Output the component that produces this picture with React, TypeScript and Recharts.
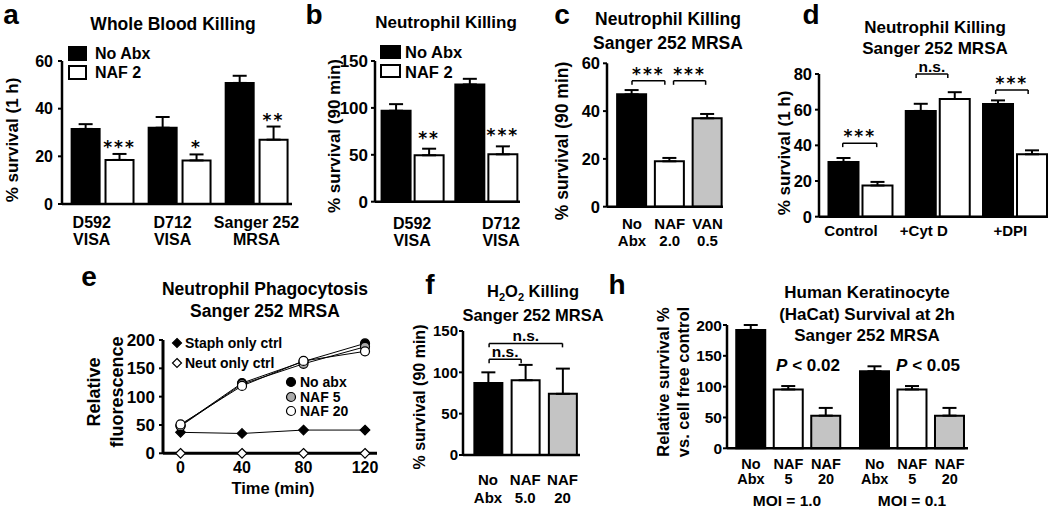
import React from 'react';
import {
  BarChart,
  Bar,
  Cell,
  ErrorBar,
  XAxis,
  YAxis,
  ReferenceLine,
  ReferenceDot,
  LineChart,
  Line,
} from 'recharts';

const FONT = '"Liberation Sans", Arial, Helvetica, sans-serif';
const STAR_FONT = '"DejaVu Sans", sans-serif';
const BLACK = '#000';
const WHITE = '#fff';
const GREY = '#c4c4c4';

// a: whole blood killing, % survival (1 h)
const strainsA = [['D592', 'VISA'], ['D712', 'VISA'], ['Sanger 252', 'MRSA']];
const noAbxA = [31.5, 32, 50.8];
const noAbxErrA = [2, 4.5, 3];
const naf2A = [18.5, 18.3, 27];
const naf2ErrA = [2.5, 2.5, 5.5];
const sigA = ['***', '*', '**'];

// b: neutrophil killing, % survival (90 min)
const strainsB = [['D592', 'VISA'], ['D712', 'VISA']];
const noAbxB = [97, 125];
const noAbxErrB = [7, 6];
const naf2B = [49.5, 50.5];
const naf2ErrB = [7, 8.5];
const sigB = ['**', '***'];

// c: neutrophil killing, Sanger 252
const treatC = [['No', 'Abx'], ['NAF', '2.0'], ['VAN', '0.5']];
const survC = [47, 19, 37];
const errC = [1.8, 1.4, 1.8];
const fillC = [BLACK, WHITE, GREY];
const sigC = [
  { from: 1.0, to: 1.87, y: 52.7, text: '***' },
  { from: 2.1, to: 2.95, y: 52.7, text: '***' },
];

// d: neutrophil killing with inhibitors
const condD = [['Control'], ['+Cyt D'], ['+DPI']];
const noAbxD = [30.7, 59.3, 63.2];
const noAbxErrD = [2.2, 4, 2];
const nafD = [17.5, 66, 35];
const nafErrD = [2, 3.8, 2.2];
const sigD = [
  { from: 0.77, to: 1.21, y: 41.2, text: '***' },
  { from: 1.72, to: 2.13, y: 80, text: 'n.s.' },
  { from: 2.75, to: 3.17, y: 71, text: '***' },
];

// e: phagocytosis over time
const timeE = [0, 40, 80, 120];
const noAbxE = [49, 124, 162, 194];
const naf5E = [48, 122, 158, 188];
const naf20E = [51, 119, 163, 180];
const staphE = [37, 35, 41, 41];
const neutE = [0, 0, 0, 0];

// f: H2O2 killing
const treatF = [['No', 'Abx'], ['NAF', '5.0'], ['NAF', '20']];
const survF = [87, 90.5, 74];
const errF = [13, 18.5, 30.5];
const fillF = [BLACK, WHITE, GREY];
const sigF = [
  { from: 1.03, to: 1.89, y: 115.8, text: 'n.s.' },
  { from: 1.03, to: 3.0, y: 135, text: 'n.s.' },
];

// h: keratinocyte survival
const treatH = [['No', 'Abx'], ['NAF', '5'], ['NAF', '20']];
const moiH = ['MOI = 1.0', 'MOI = 0.1'];
const moi1H = [192, 95.5, 53];
const moi1ErrH = [8, 5.5, 12.5];
const moi01H = [125, 95.5, 53];
const moi01ErrH = [8, 5.5, 12.5];
const fillH = [BLACK, WHITE, GREY];
const pH = ['0.02', '0.05'];

type Row = { x: number; value: number; err: number[]; fill: string };
type Tick = { x: number; lines: string[] };
type Sig = { from: number; to: number; y: number; text: string };
type Mark = { x: number; y: number; text: string };
type Frame = {
  left: number; top: number; width: number; height: number;
  plotLeft: number; plotRight: number; plotTop: number; plotBottom: number;
};

const multiTick = (ticks: Tick[], baseY: number, gap: number, size: number) => (props: any) => {
  const { x, payload } = props;
  const t = ticks.find((k) => Math.abs(k.x - payload.value) < 1e-6);
  if (!t) return <g />;
  return (
    <text x={x} y={baseY} textAnchor="middle" fontFamily={FONT} fontWeight="bold" fontSize={size} fill={BLACK}>
      {t.lines.map((l, i) => (
        <tspan key={i} x={x} dy={i === 0 ? 0 : gap}>{l}</tspan>
      ))}
    </text>
  );
};

const isStar = (s: string) => s.indexOf('*') >= 0;

const sigLabel = (text: string, offset: number) => ({
  value: text,
  position: 'top' as const,
  offset,
  fill: BLACK,
  fontSize: isStar(text) ? 17 : 15.5,
  fontWeight: 'bold',
  fontFamily: isStar(text) ? STAR_FONT : FONT,
  letterSpacing: isStar(text) ? 2 : 0,
});

interface BarPanelProps {
  frame: Frame;
  xDomain: [number, number];
  yMax: number;
  yTicks: number[];
  yFont: number;
  rows: Row[];
  barSize: number;
  ticks: Tick[];
  tickBase: number;
  lineGap: number;
  tickFont: number;
  sigs?: Sig[];
  marks?: Mark[];
  drop?: number;
  markOffset?: number;
  tickMargin?: number;
}

function BarPanel(p: BarPanelProps) {
  const f = p.frame;
  const yw = f.plotLeft - f.left;
  const mt = f.plotTop - f.top;
  const xh = f.top + f.height - f.plotBottom;
  const mr = f.left + f.width - f.plotRight;
  const drop = p.drop || 0;
  return (
    <div style={{ position: 'absolute', left: f.left, top: f.top }}>
      <BarChart width={f.width} height={f.height} data={p.rows} margin={{ top: mt, right: mr, left: 0, bottom: 0 }}>
        <XAxis
          type="number"
          dataKey="x"
          domain={p.xDomain}
          ticks={p.ticks.map((t) => t.x)}
          interval={0}
          height={xh}
          axisLine={{ stroke: BLACK, strokeWidth: 2.5 }}
          tickLine={false}
          tick={multiTick(p.ticks, p.tickBase - f.top, p.lineGap, p.tickFont)}
        />
        <YAxis
          type="number"
          domain={[0, p.yMax]}
          ticks={p.yTicks}
          interval={0}
          width={yw}
          axisLine={{ stroke: BLACK, strokeWidth: 2.5 }}
          tickLine={{ stroke: BLACK, strokeWidth: 2 }}
          tickSize={4}
          tickMargin={p.tickMargin ?? 3}
          tick={{ fill: BLACK, fontSize: p.yFont, fontWeight: 'bold', fontFamily: FONT }}
        />
        <Bar dataKey="value" barSize={p.barSize} stroke={BLACK} strokeWidth={2} isAnimationActive={false}>
          {p.rows.map((r, i) => (
            <Cell key={i} fill={r.fill} />
          ))}
          <ErrorBar dataKey="err" direction="y" width={7} stroke={BLACK} strokeWidth={2} />
        </Bar>
        {(p.sigs || []).map((s, i) => (
          <ReferenceLine
            key={`h${i}`}
            segment={[{ x: s.from, y: s.y }, { x: s.to, y: s.y }]}
            stroke={BLACK}
            strokeWidth={1.5}
            label={sigLabel(s.text, isStar(s.text) ? 1 : 2)}
          />
        ))}
        {(p.sigs || []).map((s, i) => (
          <ReferenceLine key={`l${i}`} segment={[{ x: s.from, y: s.y }, { x: s.from, y: s.y - drop }]} stroke={BLACK} strokeWidth={1.5} />
        ))}
        {(p.sigs || []).map((s, i) => (
          <ReferenceLine key={`r${i}`} segment={[{ x: s.to, y: s.y }, { x: s.to, y: s.y - drop }]} stroke={BLACK} strokeWidth={1.5} />
        ))}
        {(p.marks || []).map((m, i) => (
          <ReferenceDot key={`m${i}`} x={m.x} y={m.y} r={0} fill="none" stroke="none" label={sigLabel(m.text, p.markOffset ?? 1)} />
        ))}
      </BarChart>
    </div>
  );
}

// paired rows (black = no antibiotic, white = NAF) around group positions 1..n
const paired = (a: number[], ae: number[], b: number[], be: number[], off: number): Row[] =>
  a.flatMap((v, i) => [
    { x: i + 1 - off, value: v, err: [0, ae[i]], fill: BLACK },
    { x: i + 1 + off, value: b[i], err: [0, be[i]], fill: WHITE },
  ]);

const single = (vals: number[], errs: number[], fills: string[], pos: number[]): Row[] =>
  vals.map((v, i) => ({ x: pos[i], value: v, err: [0, errs[i]], fill: fills[i] }));

const Txt = ({ x, y, size, children, rotate, left, lh }: any) => (
  <div
    style={{
      position: 'absolute',
      left: x,
      top: y,
      transform: `translate(${left ? '0' : '-50%'}, -50%)${rotate ? ' rotate(-90deg)' : ''}`,
      fontFamily: FONT,
      fontWeight: 'bold',
      fontSize: size,
      lineHeight: lh ?? 1,
      whiteSpace: 'nowrap',
      color: BLACK,
    }}
  >
    {children}
  </div>
);

const Swatch = ({ x, y, w, h, fill }: any) => (
  <div
    style={{
      position: 'absolute', left: x, top: y, width: w, height: h, boxSizing: 'border-box',
      background: fill, border: `2px solid ${BLACK}`,
    }}
  />
);

const Sym = ({ x, y, kind, fill }: any) => (
  <svg style={{ position: 'absolute', left: x - 6, top: y - 6 }} width={12} height={12}>
    {kind === 'diamond' ? (
      <polygon points="6,1.5 10.5,6 6,10.5 1.5,6" fill={fill} stroke={BLACK} strokeWidth={1.2} />
    ) : (
      <circle cx={6} cy={6} r={4.5} fill={fill} stroke={BLACK} strokeWidth={1.2} />
    )}
  </svg>
);

const circleDot = (fill: string) => (p: any) => (
  <circle key={`c${fill}${p.index}`} cx={p.cx} cy={p.cy} r={4.5} fill={fill} stroke={BLACK} strokeWidth={1.2} />
);
const diamondDot = (fill: string) => (p: any) => (
  <polygon
    key={`d${fill}${p.index}`}
    points={`${p.cx},${p.cy - 4.8} ${p.cx + 4.8},${p.cy} ${p.cx},${p.cy + 4.8} ${p.cx - 4.8},${p.cy}`}
    fill={fill}
    stroke={BLACK}
    strokeWidth={1.2}
  />
);

const singleTick = (baseY: number, size: number) => (props: any) => (
  <text x={props.x} y={baseY} textAnchor="middle" fontFamily={FONT} fontWeight="bold" fontSize={size} fill={BLACK}>
    {props.payload.value}
  </text>
);

export default function App() {
  const rowsA = paired(noAbxA, noAbxErrA, naf2A, naf2ErrA, 0.22);
  const rowsB = paired(noAbxB, noAbxErrB, naf2B, naf2ErrB, 0.224);
  const rowsC = single(survC, errC, fillC, [1, 2, 3]);
  const rowsD = paired(noAbxD, noAbxErrD, nafD, nafErrD, 0.22);
  const rowsF = single(survF, errF, fillF, [1, 2, 3]);
  const posH = [1, 2, 3, 4.3, 5.3, 6.3];
  const rowsH = single([...moi1H, ...moi01H], [...moi1ErrH, ...moi01ErrH], [...fillH, ...fillH], posH);
  const rowsE = timeE.map((t, i) => ({
    t, noAbx: noAbxE[i], naf5: naf5E[i], naf20: naf20E[i], staph: staphE[i], neut: neutE[i],
  }));

  const labelPosA = [0.86, 1.91, 3.0];
  const labelPosB = [0.993, 2.2];
  const labelPosD = [0.877, 1.82, 2.94];

  return (
    <div style={{ position: 'absolute', left: 0, top: 0, width: 1050, height: 508, background: WHITE, overflow: 'hidden' }}>
      {/* a */}
      <BarPanel
        frame={{ left: 0, top: 0, width: 300, height: 250, plotLeft: 62, plotRight: 292, plotTop: 61, plotBottom: 204 }}
        xDomain={[0.474, 3.46]} yMax={60} yTicks={[0, 20, 40, 60]} yFont={16}
        rows={rowsA} barSize={28}
        ticks={strainsA.map((l, i) => ({ x: labelPosA[i], lines: l }))} tickBase={228} lineGap={17} tickFont={16}
        marks={sigA.map((s, i) => ({ x: i + 1 + 0.22, y: naf2A[i] + naf2ErrA[i], text: s }))}
        markOffset={1} tickMargin={5}
      />
      <Txt x={11} y={15} size={28}>a</Txt>
      <Txt x={173} y={24.5} size={17.5}>Whole Blood Killing</Txt>
      <Txt x={12} y={140} size={17} rotate>% survival (1 h)</Txt>
      <Swatch x={68} y={46} w={19} h={15} fill={BLACK} />
      <Swatch x={68} y={65} w={19} h={15} fill={WHITE} />
      <Txt x={95} y={53.5} size={16} left>No Abx</Txt>
      <Txt x={95} y={72.5} size={16} left>NAF 2</Txt>

      {/* b */}
      <BarPanel
        frame={{ left: 300, top: 0, width: 230, height: 250, plotLeft: 375, plotRight: 520, plotTop: 61, plotBottom: 201.7 }}
        xDomain={[0.49, 2.456]} yMax={150} yTicks={[0, 50, 100, 150]} yFont={17}
        rows={rowsB} barSize={29}
        ticks={strainsB.map((l, i) => ({ x: labelPosB[i], lines: l }))} tickBase={228.5} lineGap={17} tickFont={16}
        marks={sigB.map((s, i) => ({ x: i + 1 + 0.224, y: naf2B[i] + naf2ErrB[i], text: s }))}
        markOffset={5}
      />
      <Txt x={314} y={15} size={28}>b</Txt>
      <Txt x={446} y={21.5} size={17}>Neutrophil Killing</Txt>
      <Txt x={334} y={136} size={17} rotate>% survival (90 min)</Txt>
      <Swatch x={380} y={45} w={21} h={14} fill={BLACK} />
      <Swatch x={380} y={64} w={21} h={14} fill={WHITE} />
      <Txt x={405} y={52} size={16.5} left>No Abx</Txt>
      <Txt x={405} y={71.5} size={16.5} left>NAF 2</Txt>

      {/* c */}
      <BarPanel
        frame={{ left: 530, top: 0, width: 200, height: 250, plotLeft: 607, plotRight: 723, plotTop: 63.3, plotBottom: 206.7 }}
        xDomain={[0.338, 3.41]} yMax={60} yTicks={[0, 20, 40, 60]} yFont={16.5}
        rows={rowsC} barSize={29}
        ticks={treatC.map((l, i) => ({ x: i + 1, lines: l }))} tickBase={228.5} lineGap={17} tickFont={15}
        sigs={sigC} drop={1.7}
      />
      <Txt x={562} y={14.5} size={28}>c</Txt>
      <Txt x={668} y={20} size={17.5}>Neutrophil Killing</Txt>
      <Txt x={668} y={44} size={17.5}>Sanger 252 MRSA</Txt>
      <Txt x={563} y={141} size={17.5} rotate>% survival (90 min)</Txt>

      {/* d */}
      <BarPanel
        frame={{ left: 770, top: 0, width: 280, height: 250, plotLeft: 819, plotRight: 1048, plotTop: 74, plotBottom: 216.7 }}
        xDomain={[0.463, 3.427]} yMax={80} yTicks={[0, 20, 40, 60, 80]} yFont={16.5}
        rows={rowsD} barSize={30}
        ticks={condD.map((l, i) => ({ x: labelPosD[i], lines: l }))} tickBase={235.5} lineGap={17} tickFont={15}
        sigs={sigD} drop={2.2}
      />
      <Txt x={811} y={15} size={28}>d</Txt>
      <Txt x={935} y={28} size={17} lh={0.7}>Neutrophil Killing</Txt>
      <Txt x={935} y={49} size={17} lh={0.7}>Sanger 252 MRSA</Txt>
      <Txt x={784} y={153} size={17} rotate>% survival (1 h)</Txt>

      {/* e */}
      <div style={{ position: 'absolute', left: 60, top: 250 }}>
        <LineChart width={330} height={258} data={rowsE} margin={{ top: 90, right: 13, left: 0, bottom: 0 }}>
          <XAxis
            type="number" dataKey="t" domain={[-11.4, 127.8]} ticks={timeE} interval={0} height={54.7}
            axisLine={{ stroke: BLACK, strokeWidth: 3 }} tickLine={false} tick={singleTick(473 - 250, 16)}
          />
          <YAxis
            type="number" domain={[0, 200]} ticks={[0, 50, 100, 150, 200]} interval={0} width={103}
            axisLine={{ stroke: BLACK, strokeWidth: 3 }} tickLine={{ stroke: BLACK, strokeWidth: 2 }} tickSize={4} tickMargin={4}
            tick={{ fill: BLACK, fontSize: 17, fontWeight: 'bold', fontFamily: FONT }}
          />
          <Line dataKey="staph" stroke={BLACK} strokeWidth={1} isAnimationActive={false} dot={diamondDot(BLACK)} />
          <Line dataKey="noAbx" stroke={BLACK} strokeWidth={1} isAnimationActive={false} dot={circleDot(BLACK)} />
          <Line dataKey="naf5" stroke={BLACK} strokeWidth={1} isAnimationActive={false} dot={circleDot('#aaaaaa')} />
          <Line dataKey="naf20" stroke={BLACK} strokeWidth={1} isAnimationActive={false} dot={circleDot(WHITE)} />
          <Line dataKey="neut" stroke={BLACK} strokeWidth={1} isAnimationActive={false} dot={diamondDot(WHITE)} />
        </LineChart>
      </div>
      <Txt x={89} y={277} size={28}>e</Txt>
      <Txt x={265} y={290} size={17.5}>Neutrophil Phagocytosis</Txt>
      <Txt x={265} y={312} size={17.5}>Sanger 252 MRSA</Txt>
      <Txt x={94} y={392} size={18} rotate>Relative</Txt>
      <Txt x={117} y={392} size={18} rotate>fluorescence</Txt>
      <Txt x={273} y={488} size={16.5}>Time (min)</Txt>
      <Sym x={177} y={343} kind="diamond" fill={BLACK} />
      <Txt x={185} y={343} size={14} left>Staph only ctrl</Txt>
      <Sym x={177} y={363} kind="diamond" fill={WHITE} />
      <Txt x={185} y={363} size={14} left>Neut only ctrl</Txt>
      <Sym x={291} y={382} kind="circle" fill={BLACK} />
      <Txt x={300} y={382} size={14} left>No abx</Txt>
      <Sym x={291} y={397} kind="circle" fill="#aaaaaa" />
      <Txt x={300} y={397} size={14} left>NAF 5</Txt>
      <Sym x={291} y={411} kind="circle" fill={WHITE} />
      <Txt x={300} y={411} size={14} left>NAF 20</Txt>

      {/* f */}
      <BarPanel
        frame={{ left: 395, top: 250, width: 195, height: 258, plotLeft: 463, plotRight: 580, plotTop: 331, plotBottom: 455 }}
        xDomain={[0.329, 3.47]} yMax={150} yTicks={[0, 50, 100, 150]} yFont={15}
        rows={rowsF} barSize={28}
        ticks={treatF.map((l, i) => ({ x: i + 1, lines: l }))} tickBase={485} lineGap={18} tickFont={15}
        sigs={sigF} drop={4.8} tickMargin={1}
      />
      <Txt x={430} y={285} size={28}>f</Txt>
      <Txt x={533} y={293} size={16.5}>
        H<sub style={{ fontSize: 11 }}>2</sub>O<sub style={{ fontSize: 11 }}>2</sub> Killing
      </Txt>
      <Txt x={533} y={315} size={16.5}>Sanger 252 MRSA</Txt>
      <Txt x={420} y={397} size={16} rotate>% survival (90 min)</Txt>

      {/* h */}
      <BarPanel
        frame={{ left: 640, top: 250, width: 335, height: 258, plotLeft: 727, plotRight: 968, plotTop: 325, plotBottom: 448.3 }}
        xDomain={[0.36, 6.787]} yMax={200} yTicks={[0, 50, 100, 150, 200]} yFont={15.5}
        rows={rowsH} barSize={29}
        ticks={[...treatH, ...treatH].map((l, i) => ({ x: posH[i], lines: l }))} tickBase={469} lineGap={15} tickFont={14.5}
        tickMargin={1}
      />
      <Txt x={617} y={285} size={28}>h</Txt>
      <Txt x={867} y={292} size={17}>Human Keratinocyte</Txt>
      <Txt x={867} y={313.5} size={17}>(HaCat) Survival at 2h</Txt>
      <Txt x={867} y={335} size={17}>Sanger 252 MRSA</Txt>
      <Txt x={663} y={382} size={16.5} rotate>Relative survival %</Txt>
      <Txt x={683} y={382} size={16.5} rotate>vs. cell free control</Txt>
      <Txt x={808} y={365} size={17}><i>P</i> &lt; {pH[0]}</Txt>
      <Txt x={928} y={365} size={17}><i>P</i> &lt; {pH[1]}</Txt>
      <Txt x={787} y={501} size={15.5}>{moiH[0]}</Txt>
      <Txt x={912} y={501} size={15.5}>{moiH[1]}</Txt>
    </div>
  );
}
